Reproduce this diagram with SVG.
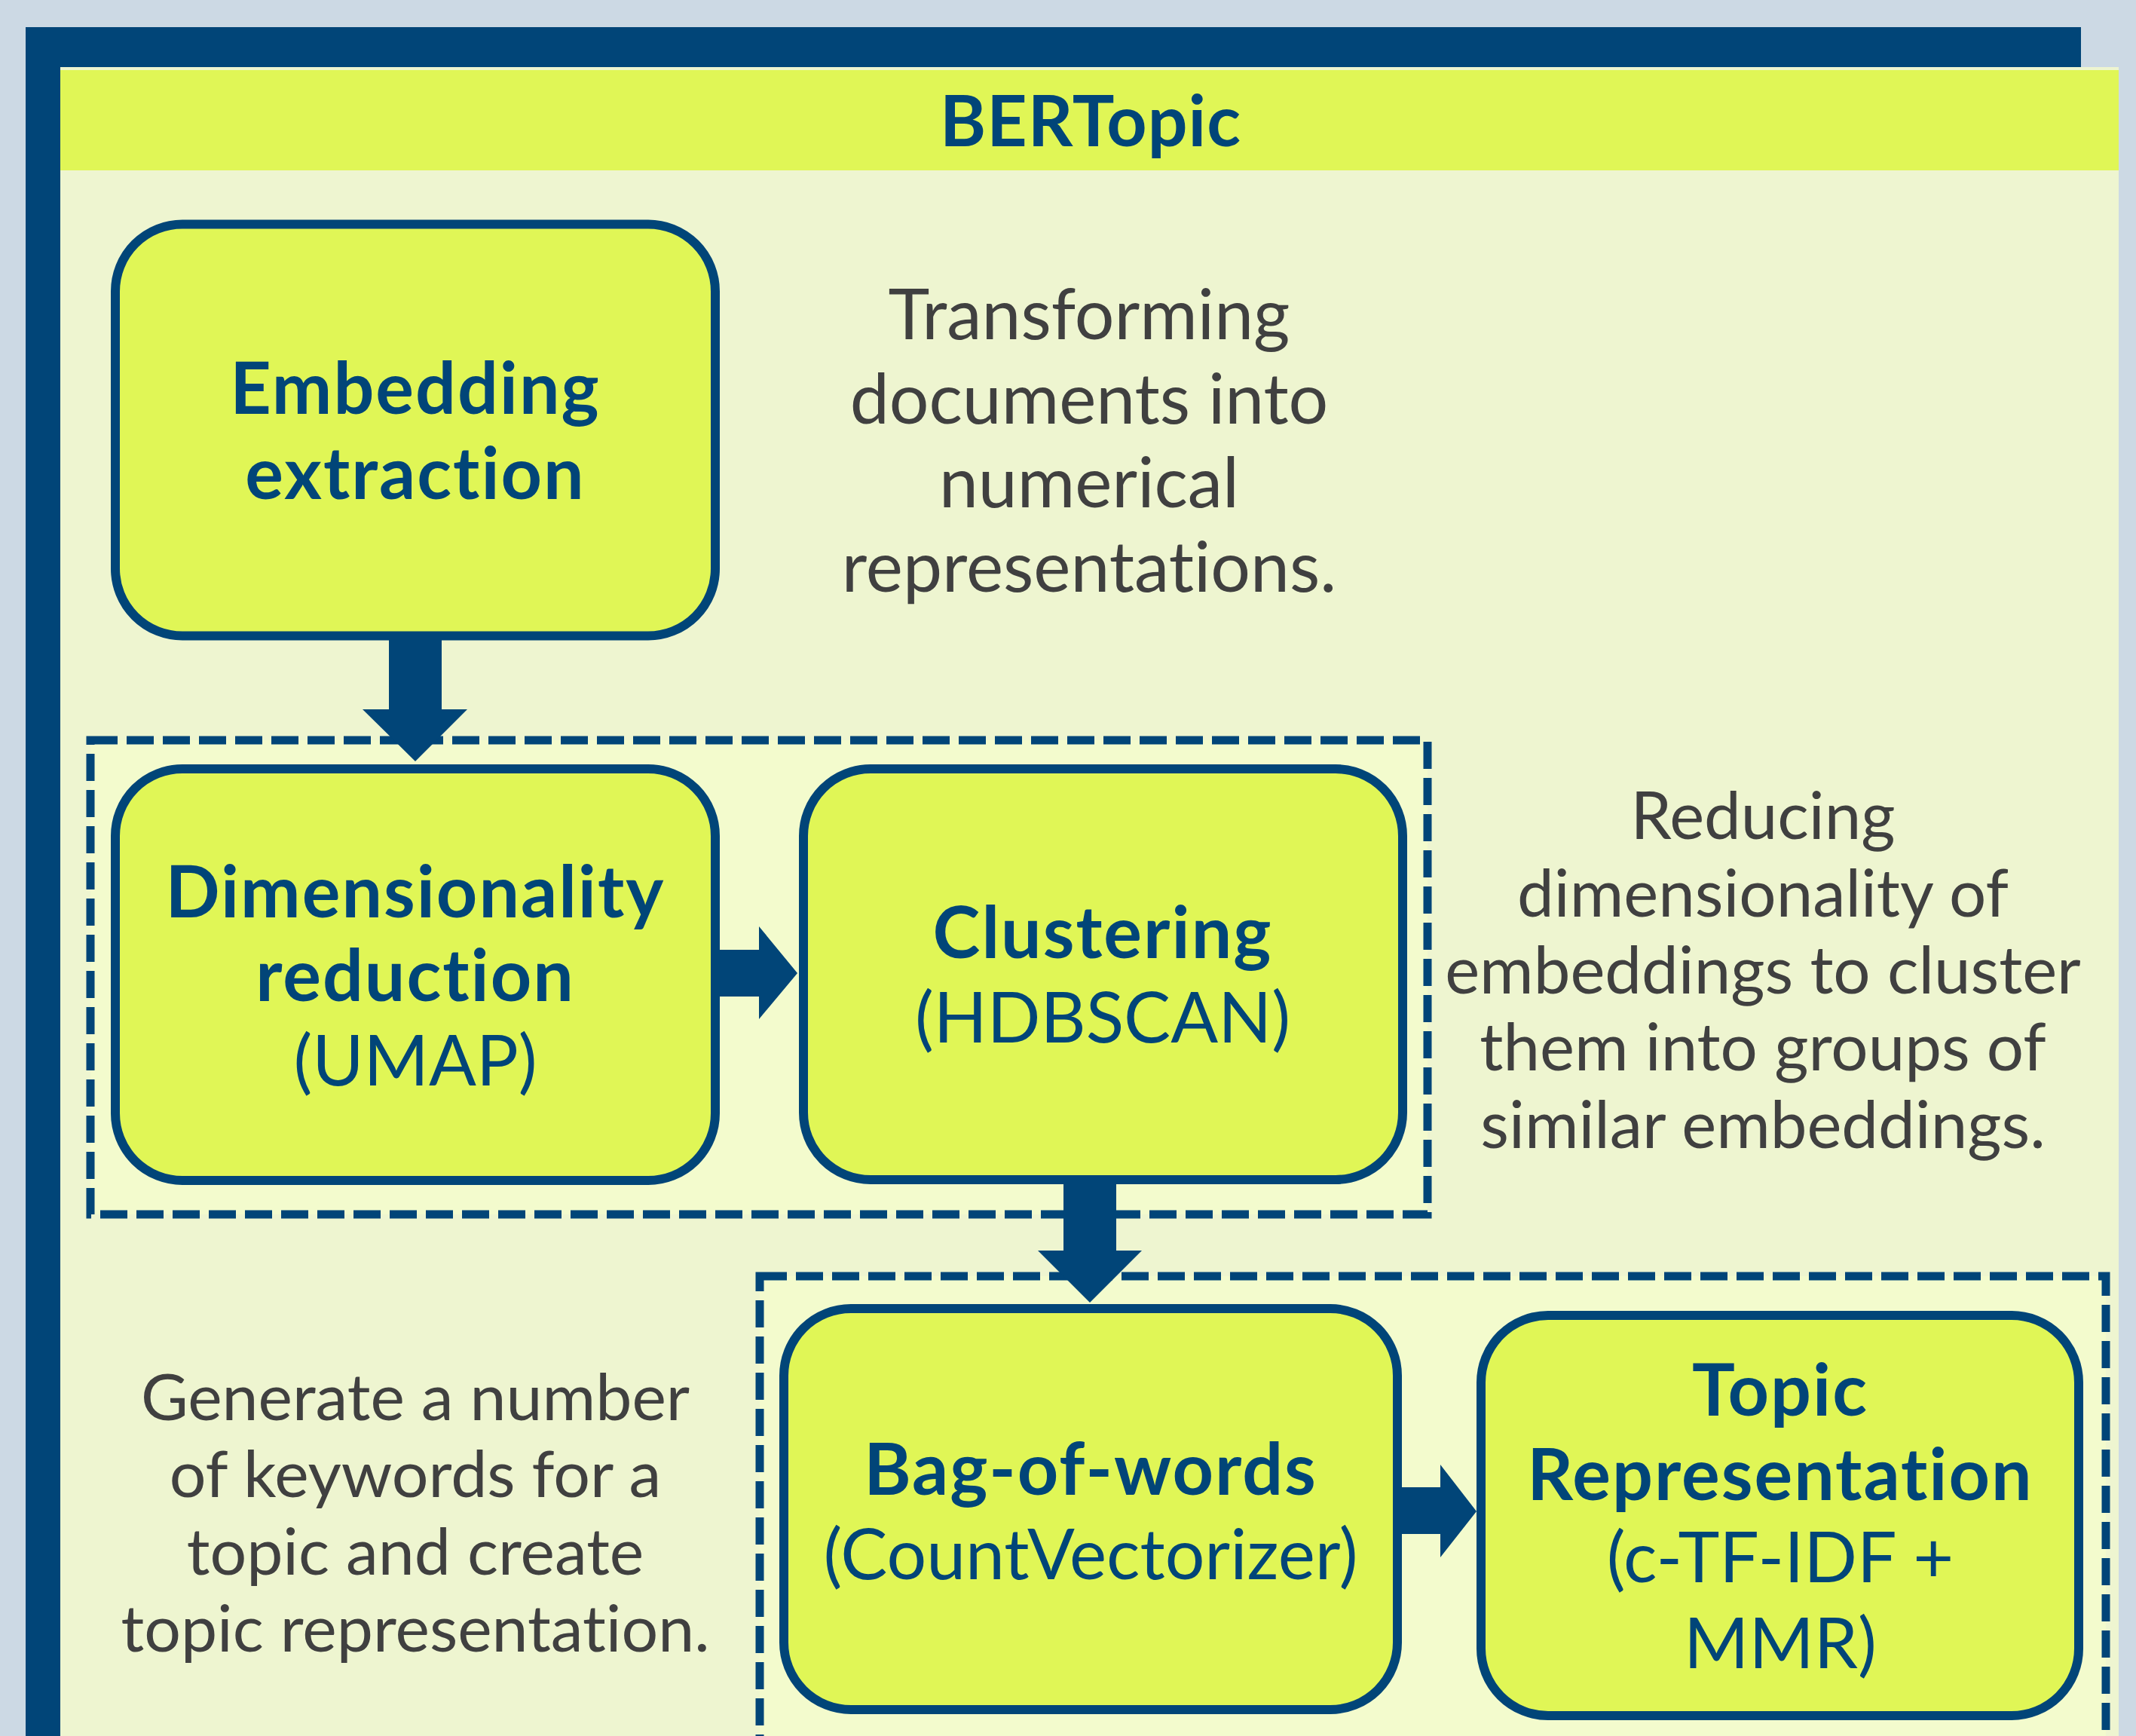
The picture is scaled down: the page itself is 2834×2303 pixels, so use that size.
<svg xmlns="http://www.w3.org/2000/svg" width="2834" height="2303" viewBox="0 0 2834 2303">
  <style>
    text { font-variant-ligatures: none; font-feature-settings: "liga" 0, "clig" 0; }
    .node rect { fill: #E0F656; stroke: #014578; stroke-width: 12; }
    .group { fill: #F3FBCD; stroke: #014578; stroke-width: 11; stroke-dasharray: 36 12; }
    .arrow { fill: #014578; }
    .lbl { font-family: Lato, "Open Sans", sans-serif; fill: #014578; text-anchor: middle; font-size: 93px; }
    .b { font-weight: 700; font-size: 95px; letter-spacing: 2px; }
    .title { font-family: Lato, "Open Sans", sans-serif; fill: #014578; text-anchor: middle; font-size: 93px; font-weight: 700; letter-spacing: 1px; }
    .note { font-family: Lato, "Open Sans", sans-serif; fill: #404040; text-anchor: middle; }
  </style>

  <!-- page background, frame shadow and panel -->
  <rect x="0" y="0" width="2834" height="2303" fill="#CCD9E4"/>
  <rect x="34" y="36" width="2727" height="2400" fill="#014578"/>
  <rect x="80" y="89" width="2731" height="2400" fill="#EEF5D0"/>
  <rect x="80" y="93" width="2731" height="133" fill="#E0F656"/>
  <text class="title" x="1447" y="194">BERTopic</text>

  <!-- dashed stage groupings -->
  <g id="groups">
    <rect class="group" x="120" y="982" width="1774" height="629"/>
    <rect class="group" x="1008" y="1693" width="1786" height="720"/>
  </g>

  <!-- descriptions -->
  <g id="note-embedding" class="note" font-size="93">
    <text x="1445" y="450">Transforming</text>
    <text x="1445" y="562">documents into</text>
    <text x="1445" y="673">numerical</text>
    <text x="1445" y="785">representations.</text>
  </g>
  <g id="note-clustering" class="note" font-size="87">
    <text x="2339" y="1113">Reducing</text>
    <text x="2339" y="1216">dimensionality of</text>
    <text x="2339" y="1318">embeddings to cluster</text>
    <text x="2339" y="1420">them into groups of</text>
    <text x="2339" y="1523">similar embeddings.</text>
  </g>
  <g id="note-representation" class="note" font-size="86">
    <text x="551" y="1884">Generate a number</text>
    <text x="551" y="1986">of keywords for a</text>
    <text x="551" y="2089">topic and create</text>
    <text x="551" y="2191">topic representation.</text>
  </g>

  <!-- pipeline steps -->
  <g id="embedding" class="node">
    <rect x="153" y="297.5" width="796" height="546" rx="89"/>
    <text class="lbl b" x="551" y="549">Embedding</text>
    <text class="lbl b" x="551" y="662">extraction</text>
  </g>
  <g id="dimensionality" class="node">
    <rect x="153" y="1020" width="796" height="546" rx="89"/>
    <text class="lbl b" x="551" y="1217">Dimensionality</text>
    <text class="lbl b" x="551" y="1328">reduction</text>
    <text class="lbl" x="551" y="1440">(UMAP)</text>
  </g>
  <g id="clustering" class="node">
    <rect x="1066" y="1020" width="795" height="545" rx="89"/>
    <text class="lbl b" x="1463" y="1271">Clustering</text>
    <text class="lbl" x="1463" y="1383" font-size="90">(HDBSCAN)</text>
  </g>
  <g id="bag-of-words" class="node">
    <rect x="1040" y="1736" width="814" height="532" rx="89"/>
    <text class="lbl b" x="1447" y="1983">Bag-of-words</text>
    <text class="lbl" x="1447" y="2095">(CountVectorizer)</text>
  </g>
  <g id="topic-representation" class="node">
    <rect x="1965" y="1745" width="793" height="531" rx="89"/>
    <text class="lbl b" x="2362" y="1878">Topic</text>
    <text class="lbl b" x="2362" y="1990">Representation</text>
    <text class="lbl" x="2362" y="2099">(c-TF-IDF +</text>
    <text class="lbl" x="2362" y="2213">MMR)</text>
  </g>

  <!-- block arrows between steps -->
  <g id="connectors" class="arrow">
    <polygon points="516,849 586,849 586,941 620,941 551,1010 481,941 516,941"/>
    <polygon points="955,1260 1007,1260 1007,1229 1058,1291 1007,1352 1007,1322 955,1322"/>
    <polygon points="1411,1570 1481,1570 1481,1659 1515,1659 1446,1728 1377,1659 1411,1659"/>
    <polygon points="1860,1973 1911,1973 1911,1943 1959,2005 1911,2066 1911,2035 1860,2035"/>
  </g>
</svg>
